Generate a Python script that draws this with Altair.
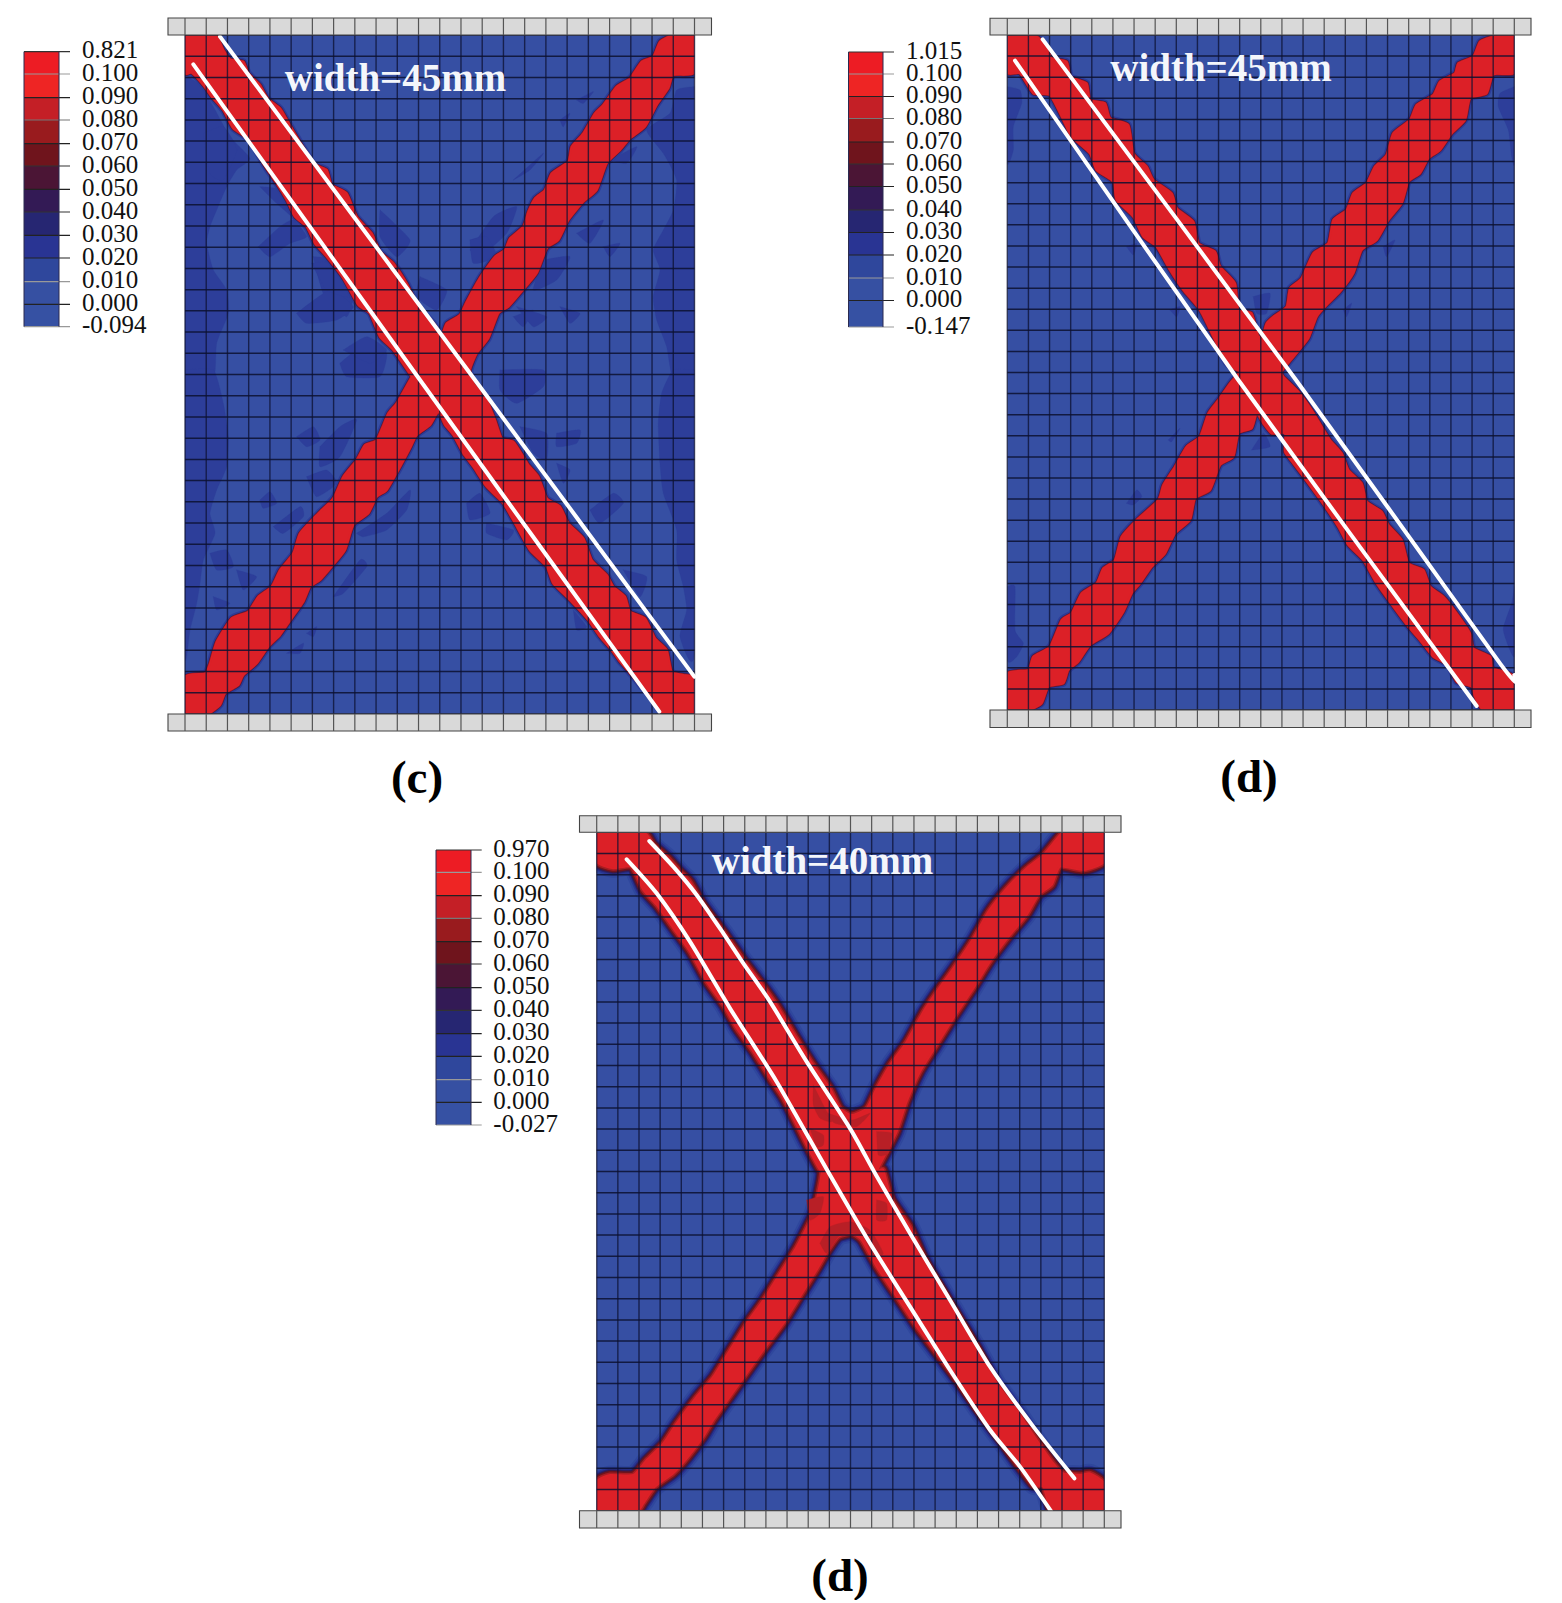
import altair as alt
import pandas as pd

# ---------- panel geometry (image pixels) ----------
PANEL_X0 = [185.0, 1007.3, 596.7]
PANEL_X1 = [694.5, 1514.3, 1104.3]
PANEL_Y0 = [35.0, 35.0, 832.3]
PANEL_Y1 = [714.0, 710.0, 1510.7]
PLATE_X0 = [168.0, 990.0, 579.5]
PLATE_X1 = [711.5, 1531.0, 1121.0]
PLATE_TOP0 = [18.0, 18.3, 815.7]
PLATE_BOT1 = [731.0, 727.5, 1528.0]
MESH_COLS, MESH_ROWS = 24, 32

LABELS_C = ["0.821","0.100","0.090","0.080","0.070","0.060","0.050","0.040","0.030","0.020","0.010","0.000","-0.094"]
LABELS_D = ["1.015","0.100","0.090","0.080","0.070","0.060","0.050","0.040","0.030","0.020","0.010","0.000","-0.147"]
LABELS_E = ["0.970","0.100","0.090","0.080","0.070","0.060","0.050","0.040","0.030","0.020","0.010","0.000","-0.027"]
BAND_COLORS = ["#ed1c24","#ee2524","#c41f26","#991b1e","#6f141c","#4b1535","#331a55","#262672","#293493","#2f479c","#3650a2","#3651a3"]
TICK_COLORS = ["#333","#999","#222","#777","#222","#333","#222","#333","#222","#222","#999","#222","#999"]
TICK_Y_C = [51.7,74,97.7,120,143.7,166,189.3,212,235.3,258,281.7,304.3,326.7]
TICK_Y_D = [52,74,96.5,118.5,142,164,186.5,210,232.5,255,278,300.5,327]
TICK_Y_E = [850,872.3,895.7,918.3,941.7,964,987.7,1010.3,1033.7,1056.3,1079.7,1102.3,1125]
BAR_X = [(24.0,59.0,70.0,82.0),(848.5,883.0,894.0,906.0),(436.0,471.0,481.7,493.3)]

C_A = [(15,15),(105,15),(130,60),(150,88),(190,95),(205,130),(240,165),(262,205),(300,235),(318,265),(350,320),(400,400),(440,420),(455,465),(500,490),(530,560),(575,610),(600,665),(640,700),(680,760),(715,830),(760,880),(785,915),(800,880),(840,855),(860,815),(890,760),(905,735),(945,680),(975,660),(990,625),(1030,590),(1045,545),(1065,505),(1095,480),(1115,430),(1165,395),(1175,350),(1210,310),(1245,250),(1270,225),(1310,170),(1350,145),(1385,95),(1420,80),(1440,35),(1480,15),(1543,15),(1543,128),(1480,135),(1465,175),(1430,225),(1395,290),(1350,325),(1320,360),(1280,400),(1250,480),(1210,515),(1165,570),(1135,630),(1100,655),(1070,730),(1020,790),(985,830),(955,850),(925,925),(890,970),(870,1020)]
C_B = [(880,40),(920,90),(945,150),(965,205),(1000,215),(1030,260),(1045,285),(1075,320),(1100,385),(1140,410),(1165,460),(1210,505),(1235,570),(1280,615),(1300,650),(1335,680),(1350,725),(1395,745),(1425,805),(1460,840),(1475,905),(1510,915),(1543,925),(1543,1033),(1450,1033),(1420,990),(1385,950),(1360,920),(1320,875),(1295,840),(1260,800),(1225,750),(1170,690),(1120,640),(1100,590),(1050,540),(1005,460),(970,400),(920,350),(880,290),(850,250),(820,195),(795,165),(775,125),(750,165),(710,195),(690,235),(655,300),(620,360),(590,380),(565,430),(520,465),(495,540),(455,590),(420,630),(390,650),(370,695),(335,745),(300,795),(265,830),(230,880),(190,915),(175,945),(135,970),(120,1005),(80,1033),(15,1033),(15,920),(75,910),(90,880),(110,815),(155,745),(205,725),(235,680),(275,650),(300,600),(340,550),(360,490),(415,430),(460,385),(490,320),(530,270),(555,225),(590,210),(625,130),(650,100),(695,20)]
C_C = [(695,1040),(640,960),(600,920),(570,850),(535,825),(490,745),(440,680),(405,640),(380,590),(345,560),(320,510),(290,460),(250,400),(210,330),(160,295),(130,240),(95,200),(70,165),(35,128),(15,128)]

D_A = [(22,20),(110,20),(140,55),(155,85),(200,95),(212,140),(260,160),(270,210),(315,220),(330,265),(385,285),(400,370),(440,410),(460,450),(515,490),(530,535),(580,575),(595,640),(645,665),(660,710),(705,760),(715,840),(755,850),(775,920),(790,910),(800,880),(820,860),(860,830),(870,775),(905,745),(940,670),(985,640),(1000,570),(1040,540),(1060,490),(1100,460),(1125,410),(1160,375),(1180,310),(1230,270),(1250,225),(1300,195),(1320,155),(1365,130),(1375,100),(1420,80),(1440,35),(1480,20),(1543,20),(1543,128),(1480,133),(1460,190),(1410,205),(1395,270),(1355,310),(1320,360),(1285,385),(1260,430),(1225,455),(1205,520),(1165,570),(1130,630),(1085,660),(1060,730),(1020,785),(980,825),(950,860),(925,925),(885,975),(860,1005),(845,1025)]
D_B = [(850,20),(895,65),(935,120),(965,170),(990,210),(1025,250),(1045,300),(1085,340),(1100,395),(1145,425),(1165,465),(1205,510),(1225,580),(1270,600),(1290,650),(1330,680),(1370,730),(1410,790),(1420,835),(1470,860),(1480,895),(1543,920),(1543,1020),(1450,1020),(1425,980),(1415,950),(1370,935),(1345,885),(1300,860),(1260,810),(1225,770),(1180,710),(1130,640),(1090,570),(1045,525),(1015,470),(965,395),(925,340),(880,280),(855,245),(855,190),(815,190),(790,160),(770,130),(755,175),(715,190),(700,260),(660,285),(630,360),(585,385),(570,450),(525,490),(495,550),(455,590),(420,640),(395,670),(370,725),(325,790),(270,825),(235,875),(205,900),(190,940),(145,950),(125,1000),(85,1020),(22,1020),(22,910),(85,900),(100,860),(150,830),(185,750),(215,730),(245,670),(290,640),(310,595),(345,570),(365,500),(410,450),(475,390),(490,345),(525,290),(560,230),(600,200),(625,130),(655,90),(690,40),(720,5)]
D_C = [(720,1025),(680,1000),(640,920),(600,840),(550,780),(510,720),(470,650),(430,620),(400,560),(350,510),(340,455),(290,420),(270,370),(215,320),(190,270),(150,195),(100,190),(60,130),(22,128)]

E_A = [(20,22),(160,22),(190,60),(235,100),(270,140),(300,170),(340,240),(400,320),(460,405),(510,470),(560,540),(620,640),(670,720),(720,790),(750,850),(785,870),(830,850),(860,790),(900,720),(950,650),(1000,560),(1040,500),(1090,430),(1150,340),(1195,260),(1250,190),(1310,130),(1360,90),(1410,30),(1430,22),(1543,22),(1543,110),(1480,135),(1410,125),(1385,180),(1345,210),(1310,270),(1260,330),(1200,410),(1150,490),(1090,580),(1040,660),(990,740),(950,830),(920,920),(890,980),(860,1040)]
E_B = [(880,0),(905,90),(960,170),(1000,260),(1040,330),(1100,430),(1160,530),(1220,640),(1280,720),(1340,810),(1390,880),(1420,910),(1470,915),(1500,910),(1543,940),(1543,1022),(1410,1022),(1380,1015),(1360,950),(1330,945),(1280,880),(1230,810),(1170,730),(1100,630),(1040,550),(980,470),(920,380),(860,290),(815,210),(785,190),(745,200),(715,240),(680,300),(630,380),(580,460),(520,540),(470,610),(420,680),(370,750),(340,800),(295,860),(250,910),(195,950),(160,1000),(140,1022),(20,1022),(20,935),(60,915),(130,915),(170,870),(220,820),(260,760),(320,680),(370,620),(420,540),(470,460),(520,390),(570,310),(620,230),(670,130),(690,40),(695,0)]
E_C = [(690,1035),(660,980),(620,900),(580,820),(540,760),(490,680),(440,610),(400,540),(350,470),(300,380),(250,310),(200,240),(160,195),(125,125),(70,130),(20,110)]

# white lines
WHITE_C = [[(180,30,(120,20)),(180,30,(885,1050)),(180,370,(1543,920))],
           [(180,30,(40,103)),(180,30,(720,1050)),(180,370,(1438,1025))]]
WHITE_D = [[(1000,30,(128,28)),(1000,30,(888,1050)),(1000,370,(1500,880)),(1000,370,(1543,915))],
           [(1000,30,(45,92)),(1000,30,(715,1050)),(1000,370,(1430,1008))]]
WE_U1 = [(178,48),(250,125),(320,210),(400,325),(460,415),(540,530),(650,710),(780,910),(858,1050)]
WE_U2 = [(960,190),(1080,390),(1200,590),(1330,770),(1453,925)]
WE_L1 = [(110,103),(200,205),(300,350),(420,550),(560,770),(720,1050)]
WE_L2 = [(840,220),(960,410),(1080,600),(1200,780),(1290,890),(1384,1025)]

# darker blue patches (crop coordinates)
C_DARK_TOP = [
 [(15,135),(60,165),(100,230),(150,320),(210,385),(170,420),(140,470),(110,540),(90,590),(80,640),(100,720),(140,780),(145,850),(110,940),(100,1050),(15,1050)],
 [(1543,170),(1490,180),(1470,250),(1400,300),(1450,370),(1490,450),(1480,540),(1450,600),(1420,660),(1440,720),(1420,800),(1430,870),(1460,950),(1480,1050),(1543,1050)],
 [(235,650),(300,590),(340,570),(380,620),(330,640),(270,680)],
 [(400,680),(460,690),(520,780),(500,860),(430,790)],
 [(600,540),(690,630),(650,680),(600,620)],
 [(720,740),(800,780),(770,840),(710,800)],
 [(350,850),(450,780),(520,830),(470,870),(380,880)],
 [(480,1000),(570,930),(620,970),(600,1040),(500,1040)],
 [(870,660),(940,560),(1010,530),(980,610),(900,680)],
 [(1000,450),(1090,370),(1050,420)],
 [(1190,610),(1270,570),(1230,640)],
 [(1270,650),(1320,640),(1290,680)],
 [(1140,270),(1170,250),(1150,290)],
 [(1190,210),(1240,185),(1210,220)],
 [(1090,690),(1170,680),(1130,750),(1060,780)],
 [(1140,830),(1200,850),(1170,880)],
 [(1000,860),(1060,840),(1030,890)],
 [(70,310),(130,290),(170,360),(130,450),(90,430)],
 [(240,470),(300,480),(350,570),(290,520)],
 [(395,700),(450,700),(510,800),(440,780)],
 [(490,960),(560,920),(620,960),(570,1000)],
 [(870,630),(920,620),(950,680),(880,700)],
 [(1010,830),(1100,860),(1060,890)],
 [(1290,390),(1370,350),(1340,400)],
]
C_DARK_BOT = [
 [(15,0),(100,0),(130,100),(145,200),(140,290),(110,360),(90,430),(105,490),(70,570),(60,640),(50,700),(30,780),(15,850)],
 [(1543,0),(1480,0),(1445,70),(1435,160),(1440,280),(1450,370),(1490,480),(1490,570),(1510,650),(1520,720),(1500,800),(1543,850)],
 [(350,200),(400,170),(420,210),(380,230)],
 [(420,230),(480,170),(530,150),(480,260),(420,290)],
 [(380,320),(440,300),(470,340),(410,380)],
 [(240,390),(270,365),(290,400),(250,415)],
 [(280,470),(360,410),(370,440),(310,490)],
 [(90,550),(140,540),(160,590),(110,600)],
 [(170,600),(230,620),(190,660)],
 [(100,680),(150,700),(110,720)],
 [(530,490),(620,430),(690,360),(680,420),(620,480),(550,500)],
 [(460,680),(540,570),(560,590),(490,670)],
 [(320,850),(370,820),(360,850)],
 [(380,790),(410,770),(400,800)],
 [(860,400),(900,370),(930,430),(870,450)],
 [(920,460),(1000,480),(980,510),(920,490)],
 [(1020,170),(1100,190),(1100,270),(1060,250)],
 [(1130,190),(1200,180),(1190,220),(1130,230)],
 [(1130,280),(1170,300),(1150,340)],
 [(1230,420),(1300,370),(1330,400),(1260,460)],
 [(960,0),(1090,0),(1090,50),(1010,100),(960,60)],
 [(1330,600),(1400,620),(1380,680)],
 [(1180,720),(1220,770),(1190,780)],
]
D_DARK_TOP = [
 [(22,170),(60,180),(65,220),(40,290),(40,360),(22,400)],
 [(1543,170),(1500,190),(1495,230),(1525,300),(1535,380),(1543,400)],
 [(380,650),(410,640),(400,675)],
 [(510,840),(540,830),(530,860)],
 [(760,800),(810,790),(800,850),(770,850)],
 [(1150,650),(1185,630),(1160,680)],
 [(1030,840),(1055,820),(1040,860)],
]
D_DARK_BOT = [
 [(22,650),(45,650),(45,780),(70,820),(50,860),(22,870)],
 [(1543,650),(1535,700),(1510,780),(1543,860)],
 [(380,400),(410,360),(425,380),(400,405)],
 [(505,210),(540,175),(515,215)],
 [(755,240),(790,190),(810,230)],
]
E_DARKRED_TOP = [
 [(670,780),(700,840),(725,890),(690,880),(670,840)],
 [(660,910),(700,930),(700,960),(680,965)],
 [(860,920),(905,925),(895,985),(865,990)],
 [(700,860),(785,885),(840,865),(800,905),(735,895)],
]
E_DARKRED_BOT = [
 [(650,90),(700,80),(690,130),(660,150)],
 [(860,90),(890,100),(890,150),(860,150)],
 [(690,220),(720,170),(780,155),(840,180),(880,250),(850,260),(820,200),(785,190),(745,200),(710,250)],
]

CAPTIONS = ["(c)", "(d)", "(d)"]
CAPTION_X = [417, 1249, 840]
CAPTION_Y = [779, 778, 1577]
WIDTH_TEXT = ["width=45mm", "width=45mm", "width=40mm"]
WIDTH_X = [395.5, 1221, 822.5]
WIDTH_Y = [91, 81, 874]

BLUE = "#364fa3"
DARK = "#2d3e9a"
RED = "#dc2027"


def conv(pts, x0, y0):
    return [(x0 + a / 3.0, y0 + b / 3.0) for a, b in pts]


def polys(list_of_pts, start=0):
    rows = []
    for k, pts in enumerate(list_of_pts):
        closed = list(pts) + [pts[0]]
        for i, (x, y) in enumerate(closed):
            rows.append({"id": start + k, "i": i, "x": x, "y": y})
    return pd.DataFrame(rows)


OUT_C = conv(C_A, 180, 30) + conv(C_B, 180, 370) + conv(C_C, 180, 30)
OUT_D = conv(D_A, 1000, 30) + conv(D_B, 1000, 370) + conv(D_C, 1000, 30)
OUT_E = conv(E_A, 590, 825) + conv(E_B, 590, 1170) + conv(E_C, 590, 825)

dark_c = [conv(p, 180, 30) for p in C_DARK_TOP] + [conv(p, 180, 370) for p in C_DARK_BOT]
dark_d = [conv(p, 1000, 30) for p in D_DARK_TOP] + [conv(p, 1000, 370) for p in D_DARK_BOT]
darkred = [conv(p, 590, 825) for p in E_DARKRED_TOP] + [conv(p, 590, 1170) for p in E_DARKRED_BOT]

XS = alt.Scale(domain=[8, 1554], nice=False, zero=False)
YS = alt.Scale(domain=[1600, 8], nice=False, zero=False)
X = alt.X("x:Q", scale=XS, axis=None)
Y = alt.Y("y:Q", scale=YS, axis=None)


def poly_layer(df, fill=None, stroke=None, sw=1.0, opacity=1.0):
    kw = {"strokeJoin": "round", "strokeCap": "round", "opacity": opacity,
          "interpolate": "cardinal", "tension": 0.45}
    if fill:
        kw["fill"] = fill
    kw["stroke"] = stroke if stroke else (fill or "transparent")
    kw["strokeWidth"] = sw if stroke else 0.3
    return alt.Chart(df).mark_line(**kw).encode(x=X, y=Y, order="i:Q", detail="id:N")


def rect_layer(df, **kw):
    return alt.Chart(df).mark_rect(**kw).encode(
        x=X, x2="x2:Q", y=Y, y2="y2:Q",
        fill=alt.Fill("c:N", scale=None))


layers = []

# panel backgrounds
bg = pd.DataFrame({"x": PANEL_X0, "x2": PANEL_X1, "y": PANEL_Y0, "y2": PANEL_Y1, "c": [BLUE] * 3})
layers.append(rect_layer(bg))

# mottled dark-blue patches
layers.append(poly_layer(polys(dark_c + dark_d), fill=DARK))

# halos
c_d = polys([OUT_C, OUT_D])
e_o = polys([OUT_E])
layers.append(poly_layer(c_d, stroke="#2c3c98", sw=7))
layers.append(poly_layer(c_d, stroke="#3a1c50", sw=4))
layers.append(poly_layer(c_d, stroke="#8f1b24", sw=3))
for col, w in [("#2f479c", 19), ("#293493", 15), ("#262672", 12), ("#3c1845", 10), ("#6f141c", 8), ("#a81d22", 5)]:
    layers.append(poly_layer(e_o, stroke=col, sw=w))

# red bands
layers.append(poly_layer(polys([OUT_C, OUT_D, OUT_E]), fill=RED, stroke=RED, sw=2))
layers.append(poly_layer(polys(darkred), fill="#b81f26"))

# white margins beside each panel: halo strokes stop at the panel edge
mask_rows = []
for p in range(3):
    mask_rows.append({"x": PANEL_X0[p] - 14, "x2": PANEL_X0[p], "y": PANEL_Y0[p] - 2, "y2": PANEL_Y1[p] + 2, "c": "#ffffff"})
    mask_rows.append({"x": PANEL_X1[p], "x2": PANEL_X1[p] + 14, "y": PANEL_Y0[p] - 2, "y2": PANEL_Y1[p] + 2, "c": "#ffffff"})
layers.append(rect_layer(pd.DataFrame(mask_rows)))

# mesh lines
v_rows, h_rows = [], []
for p in range(3):
    dx = (PANEL_X1[p] - PANEL_X0[p]) / MESH_COLS
    dy = (PANEL_Y1[p] - PANEL_Y0[p]) / MESH_ROWS
    for i in range(MESH_COLS + 1):
        v_rows.append({"x": PANEL_X0[p] + i * dx, "y": PANEL_Y0[p], "y2": PANEL_Y1[p]})
    for j in range(MESH_ROWS + 1):
        h_rows.append({"x": PANEL_X0[p], "x2": PANEL_X1[p], "y": PANEL_Y0[p] + j * dy})
MESH = "#0c1030"
layers.append(alt.Chart(pd.DataFrame(v_rows)).mark_rule(color=MESH, strokeWidth=1.4, opacity=0.75).encode(x=X, y=Y, y2="y2:Q"))
layers.append(alt.Chart(pd.DataFrame(h_rows)).mark_rule(color=MESH, strokeWidth=1.5, opacity=0.85).encode(x=X, x2="x2:Q", y=Y))

# white lines
w_rows = []
lid = 0
for group in (WHITE_C, WHITE_D):
    for line in group:
        for i, (x0, y0, pt) in enumerate(line):
            w_rows.append({"id": lid, "i": i, "x": x0 + pt[0] / 3, "y": y0 + pt[1] / 3})
        lid += 1
for line in (conv(WE_U1, 590, 825) + conv(WE_U2, 590, 1170), conv(WE_L1, 590, 825) + conv(WE_L2, 590, 1170)):
    for i, (x, y) in enumerate(line):
        w_rows.append({"id": lid, "i": i, "x": x, "y": y})
    lid += 1
layers.append(alt.Chart(pd.DataFrame(w_rows)).mark_line(color="#ffffff", strokeWidth=4, strokeCap="round", strokeJoin="round",
                                                       interpolate="cardinal", tension=0.3).encode(
    x=X, y=Y, order="i:Q", detail="id:N"))

# plates
plates, plate_v = [], []
for p in range(3):
    dx = (PANEL_X1[p] - PANEL_X0[p]) / MESH_COLS
    rows_y = [(PLATE_TOP0[p], PANEL_Y0[p]), (PANEL_Y1[p], PLATE_BOT1[p])]
    for (a, b) in rows_y:
        plates.append({"x": PLATE_X0[p], "x2": PLATE_X1[p], "y": a, "y2": b, "c": "#d9d9d9"})
        for i in range(MESH_COLS + 1):
            plate_v.append({"x": PANEL_X0[p] + i * dx, "y": a, "y2": b})
layers.append(rect_layer(pd.DataFrame(plates), stroke="#444444", strokeWidth=1.1))
layers.append(alt.Chart(pd.DataFrame(plate_v)).mark_rule(color="#555555", strokeWidth=1.2).encode(x=X, y=Y, y2="y2:Q"))

# colour bars
bar_rows, tick_rows, lab_rows = [], [], []
for (x0, x1, xt, xl), ty, labs in zip(BAR_X, (TICK_Y_C, TICK_Y_D, TICK_Y_E), (LABELS_C, LABELS_D, LABELS_E)):
    for k in range(12):
        bar_rows.append({"x": x0, "x2": x1, "y": ty[k], "y2": ty[k + 1], "c": BAND_COLORS[k]})
    for k in range(13):
        tick_rows.append({"x": x0, "x2": xt, "y": ty[k], "c": TICK_COLORS[k]})
        lab_rows.append({"x": xl, "y": ty[k], "t": labs[k]})
layers.append(rect_layer(pd.DataFrame(bar_rows)))
layers.append(alt.Chart(pd.DataFrame(tick_rows)).mark_rule(strokeWidth=1.2).encode(
    x=X, x2="x2:Q", y=Y, color=alt.Color("c:N", scale=None)))
edge_rows = []
for (x0, x1, xt, xl), ty in zip(BAR_X, (TICK_Y_C, TICK_Y_D, TICK_Y_E)):
    edge_rows += [{"x": x0, "y": ty[0], "y2": ty[-1]}, {"x": x1, "y": ty[0], "y2": ty[-1]}]
layers.append(alt.Chart(pd.DataFrame(edge_rows)).mark_rule(color="#2a2a50", strokeWidth=1).encode(x=X, y=Y, y2="y2:Q"))
layers.append(alt.Chart(pd.DataFrame(lab_rows)).mark_text(
    font="Liberation Serif", fontSize=25, align="left", baseline="middle", dy=-1.5, color="#111111").encode(x=X, y=Y, text="t:N"))

# texts
layers.append(alt.Chart(pd.DataFrame({"x": WIDTH_X, "y": WIDTH_Y, "t": WIDTH_TEXT})).mark_text(
    font="Liberation Serif", fontWeight="bold", fontSize=39, align="center", baseline="alphabetic", color="#f4f6fb").encode(x=X, y=Y, text="t:N"))
layers.append(alt.Chart(pd.DataFrame({"x": CAPTION_X, "y": CAPTION_Y, "t": CAPTIONS})).mark_text(
    font="Liberation Serif", fontWeight="bold", fontSize=47, align="center", baseline="middle", color="#000000").encode(x=X, y=Y, text="t:N"))

chart = alt.layer(*layers).properties(
    width=1546, height=1592, padding=0,
    autosize=alt.AutoSizeParams(type="none", contains="content"),
    background="#ffffff",
).configure_view(strokeWidth=0)

chart.save("out.html", embed_options={"renderer": "svg", "actions": False})
